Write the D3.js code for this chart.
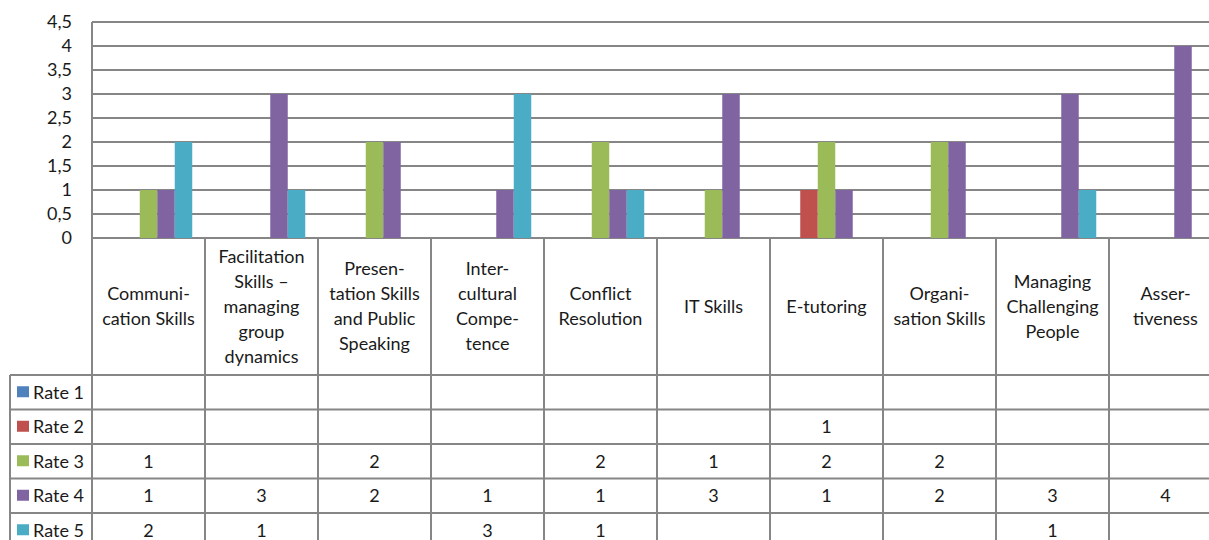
<!DOCTYPE html>
<html>
<head>
<meta charset="utf-8">
<script src="https://cdn.jsdelivr.net/npm/d3@7"></script>
<style>
  body { margin: 0; background: #fff; }
  svg { display: block; font-family: Lato, "Open Sans", sans-serif; }
</style>
</head>
<body>
<div id="chart"></div>
<script>
// categories, header lines as printed (Excel hyphenation kept)
var categories = ['Communication Skills', 'Facilitation Skills – managing group dynamics',
    'Presentation Skills and Public Speaking', 'Intercultural Competence', 'Conflict Resolution',
    'IT Skills', 'E-tutoring', 'Organisation Skills', 'Managing Challenging People', 'Assertiveness'];
var headerLines = [
    ['Communi-', 'cation Skills'],
    ['Facilitation', 'Skills –', 'managing', 'group', 'dynamics'],
    ['Presen-', 'tation Skills', 'and Public', 'Speaking'],
    ['Inter-', 'cultural', 'Compe-', 'tence'],
    ['Conflict', 'Resolution'],
    ['IT Skills'],
    ['E-tutoring'],
    ['Organi-', 'sation Skills'],
    ['Managing', 'Challenging', 'People'],
    ['Asser-', 'tiveness']
];
var seriesNames = ['Rate 1', 'Rate 2', 'Rate 3', 'Rate 4', 'Rate 5'];
var rate1 = [null, null, null, null, null, null, null, null, null, null];
var rate2 = [null, null, null, null, null, null, 1, null, null, null];
var rate3 = [1, null, 2, null, 2, 1, 2, 2, null, null];
var rate4 = [1, 3, 2, 1, 1, 3, 1, 2, 3, 4];
var rate5 = [2, 1, null, 3, 1, null, null, null, 1, null];
var yTicks = [0, 0.5, 1, 1.5, 2, 2.5, 3, 3.5, 4, 4.5];
var colors = ['#4f81bd', '#c0504d', '#9bbb59', '#8064a2', '#4bacc6'];

var seriesValues = [rate1, rate2, rate3, rate4, rate5];

var W = 1209, H = 540;
var plotLeft = 92, colW = 113, plotTop = 22, plotBottom = 238;
var headerBottom = 375, rowH = 34.5, legendLeft = 10;
var gridColor = '#868686';
var fontSize = 18;

var svg = d3.select('#chart').append('svg')
    .attr('width', W).attr('height', H);

var x = d3.scaleBand()
    .domain(d3.range(categories.length))
    .range([plotLeft, plotLeft + colW * categories.length]);

var gap = 25.5; // Excel gap width between groups
var x1 = d3.scaleBand()
    .domain(d3.range(seriesNames.length))
    .range([gap / 2, x.bandwidth() - gap / 2]);

var y = d3.scaleLinear()
    .domain([0, 4.5])
    .range([plotBottom, plotTop]);

var fmt = function (d) { return String(d).replace('.', ','); };

// gridlines
svg.append('g')
    .selectAll('line')
    .data(yTicks)
    .enter().append('line')
    .attr('x1', plotLeft).attr('x2', W)
    .attr('y1', function (d) { return y(d); })
    .attr('y2', function (d) { return y(d); })
    .attr('stroke', gridColor)
    .attr('stroke-width', 2);

// y axis labels
var yAxis = d3.axisLeft(y).tickValues(yTicks).tickFormat(fmt).tickSize(0).tickPadding(20);
var ya = svg.append('g')
    .attr('transform', 'translate(' + plotLeft + ',0)')
    .call(yAxis);
ya.select('.domain').remove();
ya.selectAll('text')
    .attr('font-family', 'Lato, "Open Sans", sans-serif')
    .attr('font-size', fontSize)
    .attr('fill', '#1a1a1a');

// bars
var groups = svg.append('g')
    .selectAll('g')
    .data(seriesValues)
    .enter().append('g')
    .attr('fill', function (d, i) { return colors[i]; });

groups.each(function (vals, si) {
    d3.select(this).selectAll('rect')
        .data(vals.map(function (v, ci) { return {v: v, ci: ci}; })
            .filter(function (d) { return d.v !== null; }))
        .enter().append('rect')
        .attr('x', function (d) { return x(d.ci) + x1(si); })
        .attr('width', x1.bandwidth())
        .attr('y', function (d) { return y(d.v); })
        .attr('height', function (d) { return y(0) - y(d.v); });
});

// table grid
var tableBottom = headerBottom + rowH * seriesNames.length;
var grid = svg.append('g')
    .attr('stroke', gridColor)
    .attr('stroke-width', 2);

// plot left border
grid.append('line')
    .attr('x1', plotLeft).attr('x2', plotLeft)
    .attr('y1', plotTop).attr('y2', tableBottom);

// category separators
grid.selectAll('.vsep')
    .data(d3.range(1, categories.length + 1))
    .enter().append('line')
    .attr('x1', function (d) { return x(0) + d * x.step(); })
    .attr('x2', function (d) { return x(0) + d * x.step(); })
    .attr('y1', plotBottom).attr('y2', tableBottom);

// legend column left border
grid.append('line')
    .attr('x1', legendLeft).attr('x2', legendLeft)
    .attr('y1', headerBottom).attr('y2', tableBottom);

// row lines
grid.selectAll('.hrow')
    .data(d3.range(seriesNames.length + 1))
    .enter().append('line')
    .attr('x1', legendLeft).attr('x2', W)
    .attr('y1', function (d) { return headerBottom + d * rowH; })
    .attr('y2', function (d) { return headerBottom + d * rowH; });

// header text
var headerMid = (plotBottom + headerBottom) / 2;
var lineH = 25;
headerLines.forEach(function (lines, ci) {
    var t = svg.append('text')
        .attr('text-anchor', 'middle')
        .attr('font-size', fontSize)
        .attr('fill', '#1a1a1a');
    var y0 = headerMid - (lines.length - 1) * lineH / 2;
    lines.forEach(function (ln, li) {
        t.append('tspan')
            .attr('x', x(ci) + x.bandwidth() / 2)
            .attr('y', y0 + li * lineH)
            .attr('dy', '0.35em')
            .text(ln);
    });
});

// legend labels
seriesNames.forEach(function (name, si) {
    var cy = headerBottom + si * rowH + rowH / 2;
    svg.append('rect')
        .attr('x', 17).attr('y', cy - 6)
        .attr('width', 12).attr('height', 11)
        .attr('fill', colors[si]);
    svg.append('text')
        .attr('x', 33).attr('y', cy)
        .attr('dy', '0.35em')
        .attr('font-size', fontSize)
        .attr('fill', '#1a1a1a')
        .text(name);
});

// table values
seriesValues.forEach(function (vals, si) {
    var cy = headerBottom + si * rowH + rowH / 2;
    svg.append('g')
        .selectAll('text')
        .data(vals.map(function (v, ci) { return {v: v, ci: ci}; })
            .filter(function (d) { return d.v !== null; }))
        .enter().append('text')
        .attr('x', function (d) { return x(d.ci) + x.bandwidth() / 2; })
        .attr('y', cy)
        .attr('dy', '0.35em')
        .attr('text-anchor', 'middle')
        .attr('font-size', fontSize)
        .attr('fill', '#1a1a1a')
        .text(function (d) { return d.v; });
});
</script>
</body>
</html>
